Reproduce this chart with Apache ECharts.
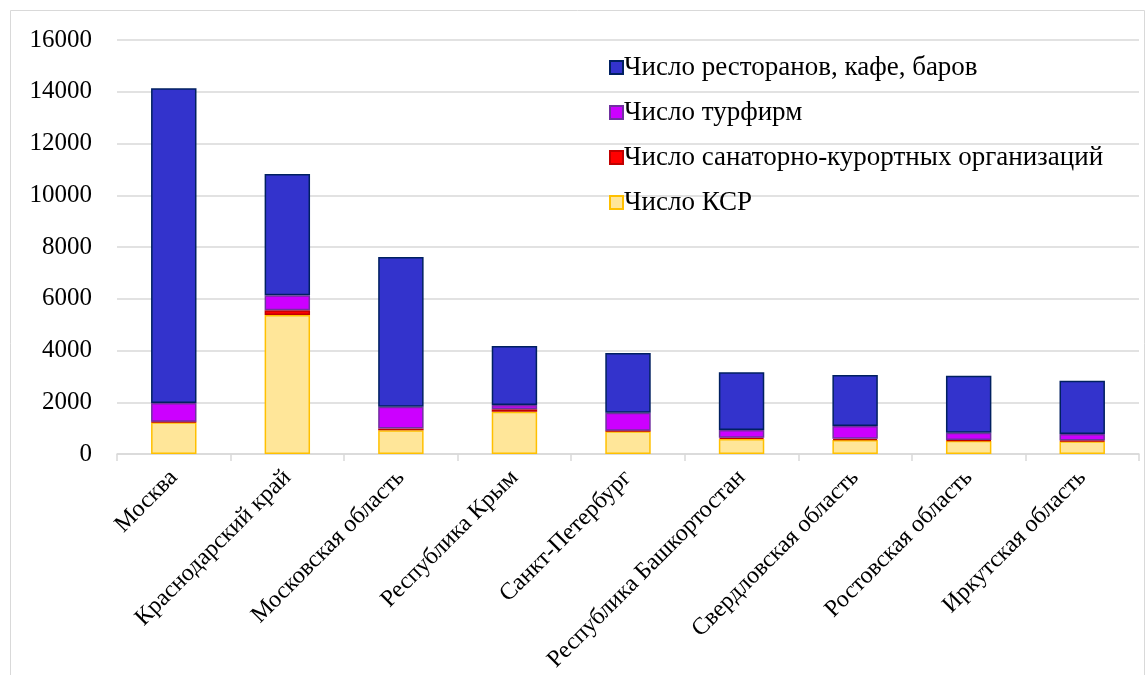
<!DOCTYPE html>
<html>
<head>
<meta charset="utf-8">
<script src="https://cdn.jsdelivr.net/npm/echarts@6/dist/echarts.min.js"></script>
<style>
  html, body { margin: 0; padding: 0; background: #fff; }
  #main { width: 1147px; height: 675px; }
</style>
</head>
<body>
<div id="main"></div>
<script>
// Data
const regions = ['Москва', 'Краснодарский край', 'Московская область', 'Республика Крым',
    'Санкт-Петербург', 'Республика Башкортостан', 'Свердловская область', 'Ростовская область', 'Иркутская область'];
const ksr = [1230, 5370, 920, 1630, 880, 580, 540, 510, 490];
const sanatorium = [20, 190, 70, 100, 15, 50, 50, 30, 30];
const tourFirms = [720, 580, 840, 160, 700, 300, 490, 285, 250];
const restaurants = [12170, 4680, 5785, 2280, 2306, 2229, 1971, 2203, 2061];
const yTicks = [0, 2000, 4000, 6000, 8000, 10000, 12000, 14000, 16000];

const font = '"Liberation Serif", "Times New Roman", serif';

const chart = echarts.init(document.getElementById('main'));

function barSeries(name, data, fill, stroke) {
    return {
        name: name,
        type: 'bar',
        stack: 'total',
        barWidth: '40%',
        data: data,
        itemStyle: { color: fill, borderColor: stroke, borderWidth: 1.5 }
    };
}

const option = {
    animation: false,
    backgroundColor: '#fff',
    textStyle: { fontFamily: font },
    graphic: [{
        type: 'rect',
        shape: { x: 10.5, y: 10.5, width: 1134, height: 680 },
        style: { fill: 'none', stroke: '#d9d9d9', lineWidth: 1 },
        silent: true
    }],
    grid: { left: 117, right: 8, top: 40, bottom: 221, outerBoundsMode: 'none', containLabel: false },
    legend: {
        orient: 'vertical',
        left: 604,
        top: 49,
        itemGap: 18,
        itemWidth: 13,
        itemHeight: 13,
        icon: 'rect',
        textStyle: { fontFamily: font, fontSize: 27, color: '#000', padding: [0, 0, 0, -4] },
        data: ['Число ресторанов, кафе, баров', 'Число турфирм', 'Число санаторно-курортных организаций', 'Число КСР']
    },
    xAxis: {
        type: 'category',
        data: regions,
        axisLine: { lineStyle: { color: '#d9d9d9', width: 1.5 } },
        axisTick: { show: true, length: 7, lineStyle: { color: '#d9d9d9', width: 1.5 } },
        axisLabel: {
            interval: 0,
            rotate: 45,
            fontFamily: font,
            fontSize: 24,
            color: '#000',
            margin: 20
        }
    },
    yAxis: {
        type: 'value',
        min: yTicks[0],
        max: yTicks[yTicks.length - 1],
        interval: 2000,
        axisLine: { show: false },
        axisTick: { show: false },
        splitLine: { lineStyle: { color: '#d9d9d9', width: 1.5 } },
        axisLabel: {
            fontFamily: font, fontSize: 25, color: '#000', margin: 25,
            formatter: v => String(v)
        }
    },
    series: [
        barSeries('Число КСР', ksr, '#FFE699', '#FFC000'),
        barSeries('Число санаторно-курортных организаций', sanatorium, '#FF0000', '#C00000'),
        barSeries('Число турфирм', tourFirms, '#CC00FF', '#7030A0'),
        barSeries('Число ресторанов, кафе, баров', restaurants, '#3333CC', '#002060')
    ]
};

chart.setOption(option);
</script>
</body>
</html>
